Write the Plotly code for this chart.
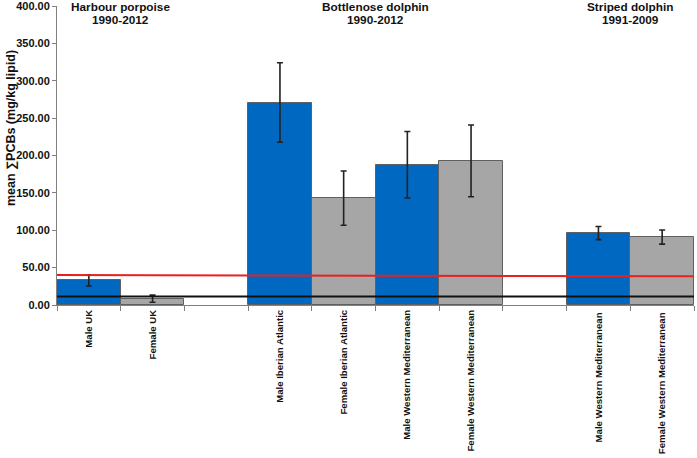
import plotly.graph_objects as go

categories = ["Male UK", "Female UK", " ",
              "Male Iberian Atlantic", "Female Iberian Atlantic",
              "Male Western Mediterranean", "Female Western Mediterranean", "  ",
              "Male Western Mediterranean ", "Female Western Mediterranean "]
values = [32.9, 8.4, None, 270.9, 143.0, 187.6, 192.9, None, 96.3, 90.9]
errors = [7.5, 4.8, None, 53.2, 36.3, 44.5, 48.0, None, 8.8, 9.4]
sexes = ["M", "F", None, "M", "F", "M", "F", None, "M", "F"]
group_names = ["Harbour porpoise", "Bottlenose dolphin", "Striped dolphin"]
group_years = ["1990-2012", "1990-2012", "1991-2009"]
group_title_pos = [0.5, 4.5, 8.5]
red_line = [40.0, 38.3]
black_line = [11.5, 11.5]
y_ticks = [0, 50, 100, 150, 200, 250, 300, 350, 400]
y_title = "mean ∑PCBs (mg/kg lipid)"

color_map = {"M": "#0068C0", "F": "#A6A6A6", None: "rgba(0,0,0,0)"}
colors = [color_map[s] for s in sexes]

font_family = "Arial, 'Liberation Sans', sans-serif"

fig = go.Figure()
fig.add_trace(go.Bar(
    x=categories, y=values, width=1.0,
    marker=dict(color=colors, line=dict(color="#606060", width=1)),
    error_y=dict(type="data", array=errors, visible=True, color="#222222", thickness=1.6, width=3),
    showlegend=False, hoverinfo="skip",
))

fig.add_shape(type="line", xref="paper", yref="y", x0=0, x1=1, y0=red_line[0], y1=red_line[1],
              line=dict(color="#E8201E", width=2))
fig.add_shape(type="line", xref="paper", yref="y", x0=0, x1=1, y0=black_line[0], y1=black_line[1],
              line=dict(color="#111111", width=2))

for name, yrs, p in zip(group_names, group_years, group_title_pos):
    fig.add_annotation(text="<b>" + name + "</b>", x=p, xref="x", y=1, yref="paper",
                       yanchor="middle", yshift=-0.5, showarrow=False, borderpad=0,
                       font=dict(family=font_family, size=11.8, color="#111111"))
    fig.add_annotation(text="<b>" + yrs + "</b>", x=p, xref="x", y=1, yref="paper",
                       yanchor="middle", yshift=-13.5, showarrow=False, borderpad=0,
                       font=dict(family=font_family, size=11.8, color="#111111"))

fig.add_annotation(text="<b>" + y_title + "</b>", x=0, xref="paper", xanchor="center", xshift=-46,
                   y=0.592, yref="paper", yanchor="middle", textangle=-90, showarrow=False,
                   font=dict(family=font_family, size=12.5, color="#111111"))

fig.update_layout(
    width=697, height=458,
    margin=dict(l=57, r=3, t=6, b=153, autoexpand=False),
    plot_bgcolor="white", paper_bgcolor="white",
    font=dict(family=font_family, color="#111111"),
    bargap=0,
)
fig.update_xaxes(
    type="category", categoryorder="array", categoryarray=categories,
    tickson="boundaries", ticks="outside", ticklen=5, tickcolor="#808080",
    showline=True, linecolor="#808080", linewidth=1, automargin=False,
    tickangle=-90, tickfont=dict(size=9.6, family=font_family, color="#111111", weight="bold"),
    showgrid=False, range=[-0.5, 9.5],
)
fig.update_yaxes(
    range=[0, 400], tickvals=y_ticks, tickformat=".2f",
    ticks="outside", ticklen=4, tickcolor="#808080", ticklabeloverflow="allow",
    showline=True, linecolor="#808080", linewidth=1, automargin=False,
    showgrid=False, zeroline=False,
    tickfont=dict(size=11, family=font_family, color="#111111", weight="bold"),
)

fig.write_html("out.html", config={"displayModeBar": False},
               post_script="document.body.style.margin='0';document.body.style.padding='0';")
